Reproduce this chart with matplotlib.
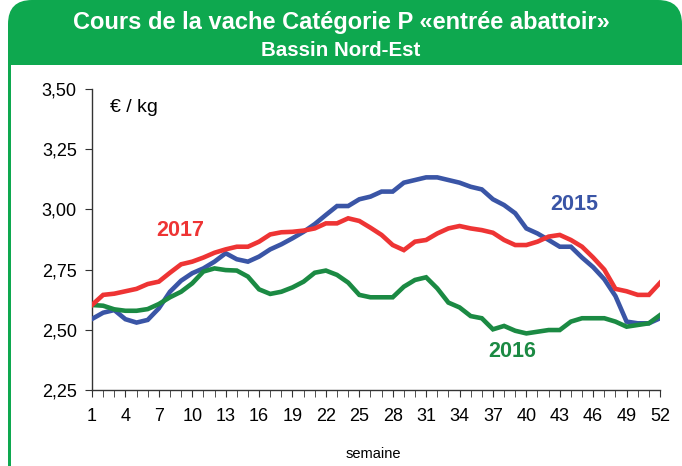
import matplotlib
matplotlib.use("Agg")
import matplotlib.pyplot as plt
from matplotlib.patches import FancyBboxPatch, Rectangle
from matplotlib.ticker import FixedLocator, FuncFormatter

plt.rcParams['font.family'] = ['Liberation Sans', 'DejaVu Sans']

weeks = list(range(1, 53))

prix_2015 = [2.545, 2.571, 2.582, 2.544, 2.530, 2.541, 2.589, 2.658, 2.704, 2.735,
             2.755, 2.783, 2.818, 2.793, 2.783, 2.804, 2.834, 2.855, 2.880, 2.907,
             2.939, 2.977, 3.014, 3.014, 3.042, 3.053, 3.074, 3.074, 3.111, 3.122,
             3.133, 3.133, 3.122, 3.111, 3.094, 3.083, 3.042, 3.018, 2.984, 2.921,
             2.900, 2.873, 2.845, 2.845, 2.800, 2.760, 2.710, 2.640, 2.534, 2.527,
             2.527, 2.548]

prix_2016 = [2.603, 2.600, 2.585, 2.579, 2.579, 2.586, 2.607, 2.635, 2.658, 2.693,
             2.742, 2.755, 2.748, 2.746, 2.721, 2.668, 2.649, 2.658, 2.676, 2.700,
             2.737, 2.746, 2.728, 2.696, 2.645, 2.635, 2.635, 2.635, 2.679, 2.707,
             2.718, 2.672, 2.613, 2.593, 2.557, 2.548, 2.502, 2.516, 2.496, 2.485,
             2.492, 2.499, 2.499, 2.534, 2.548, 2.548, 2.548, 2.534, 2.513, 2.520,
             2.527, 2.561]

prix_2017 = [2.603, 2.645, 2.650, 2.660, 2.670, 2.690, 2.700, 2.737, 2.772, 2.783,
             2.800, 2.820, 2.834, 2.845, 2.845, 2.866, 2.896, 2.905, 2.907, 2.912,
             2.921, 2.942, 2.942, 2.963, 2.952, 2.924, 2.894, 2.852, 2.831, 2.866,
             2.873, 2.900, 2.921, 2.931, 2.921, 2.914, 2.903, 2.873, 2.852, 2.852,
             2.866, 2.887, 2.894, 2.873, 2.845, 2.800, 2.750, 2.670, 2.660, 2.645,
             2.645, 2.695]

y_ticks = [2.25, 2.50, 2.75, 3.00, 3.25, 3.50]
x_labels = list(range(1, 53, 3))

GREEN_HDR = '#0EA84F'
C2015 = '#3A55A6'
C2016 = '#1B8A43'
C2017 = '#EE3434'

W, H = 682, 466
fig = plt.figure(figsize=(W / 100, H / 100), dpi=100)

# green frame: header band with rounded corners + left border
frame = FancyBboxPatch((0.08, -1.0), 6.74, 5.66, boxstyle="round,pad=0,rounding_size=0.24",
                       transform=fig.dpi_scale_trans, facecolor=GREEN_HDR,
                       edgecolor='none', zorder=0)
fig.patches.append(frame)
fig.patches.append(Rectangle((11 / W, 0), 1, 1 - 65 / H, transform=fig.transFigure,
                             facecolor='white', edgecolor='none', zorder=0.5))

fig.text(0.5, 1 - 23 / H, "Cours de la vache Catégorie P «entrée abattoir»",
         ha='center', va='center', color='white', fontsize=17, fontweight='bold')
fig.text(0.5, 1 - 50 / H, "Bassin Nord-Est", ha='center', va='center',
         color='white', fontsize=14.8, fontweight='bold')

ax = fig.add_axes([92 / W, 1 - 390 / H, (660 - 92) / W, (390 - 89) / H])
ax.set_zorder(2)
ax.set_facecolor('none')

ax.plot(weeks, prix_2015, color=C2015, lw=3.3, solid_joinstyle='miter', zorder=3)
ax.plot(weeks, prix_2016, color=C2016, lw=3.3, solid_joinstyle='miter', zorder=3)
ax.plot(weeks, prix_2017, color=C2017, lw=3.3, solid_joinstyle='miter', zorder=3)

ax.set_xlim(1, 52)
ax.set_ylim(2.25, 3.50)
ax.set_yticks(y_ticks)
ax.yaxis.set_major_formatter(FuncFormatter(lambda v, p: f"{v:.2f}".replace('.', ',')))
ax.set_xticks(x_labels)
ax.xaxis.set_minor_locator(FixedLocator(weeks))
ax.tick_params(axis='x', which='major', length=5, labelsize=13, pad=8, color='#333333')
ax.tick_params(axis='x', which='minor', length=5, color='#333333')
ax.tick_params(axis='y', length=5, labelsize=13, pad=6, color='#333333')

for s in ['top', 'right']:
    ax.spines[s].set_visible(False)
for s in ['left', 'bottom']:
    ax.spines[s].set_color('#333333')
    ax.spines[s].set_linewidth(1)
ax.spines['bottom'].set_zorder(4)

# unit and year labels
ax.text(0.032, 0.94, "€ / kg", transform=ax.transAxes, fontsize=14, va='center')
ax.text(8.9, 2.890, "2017", color=C2017, fontsize=15.5, fontweight='bold',
        ha='center', va='baseline')
ax.text(44.3, 2.998, "2015", color=C2015, fontsize=15.5, fontweight='bold',
        ha='center', va='baseline')
ax.text(38.7, 2.387, "2016", color=C2016, fontsize=15.5, fontweight='bold',
        ha='center', va='baseline')

fig.text(373 / W, 1 - 454 / H, "semaine", ha='center', va='center', fontsize=10.5)

fig.savefig("out.png", dpi=100)
